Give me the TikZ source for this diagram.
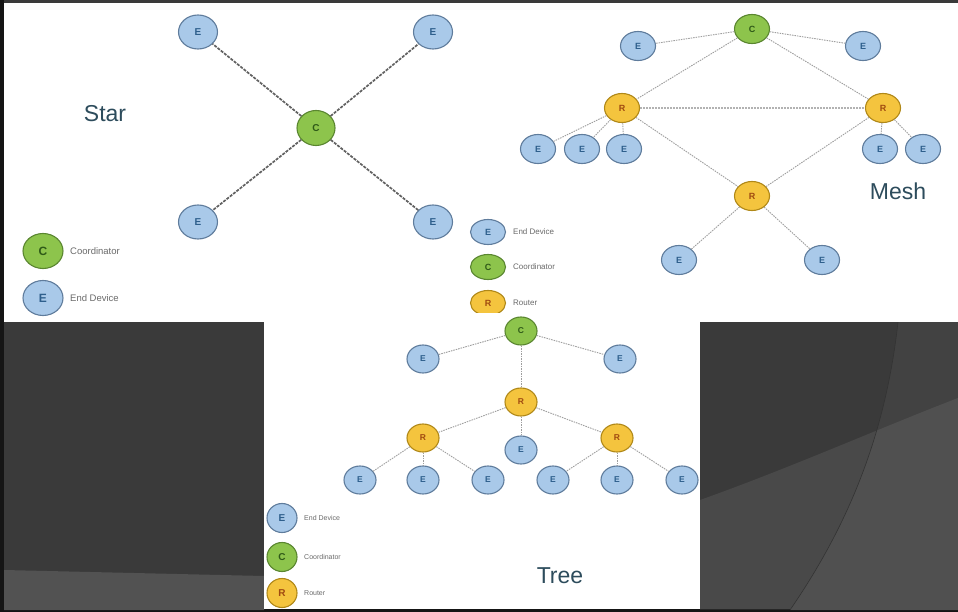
\documentclass[tikz,border=0pt]{standalone}
\usepackage{fontspec}
\setmainfont{Liberation Sans}
\usetikzlibrary{shapes.geometric}
\definecolor{bgdark}{HTML}{3A3A3A}
\definecolor{frame}{HTML}{151515}
\definecolor{ef}{HTML}{A9C9E9}
\definecolor{eb}{HTML}{5F7C9C}
\definecolor{et}{HTML}{2E5F8C}
\definecolor{cf}{HTML}{8DC44C}
\definecolor{cb}{HTML}{5A8630}
\definecolor{ct}{HTML}{2F5A18}
\definecolor{rf}{HTML}{F4C43E}
\definecolor{rb}{HTML}{B08818}
\definecolor{rt}{HTML}{A04A10}
\definecolor{titlec}{HTML}{2D4C5C}
\definecolor{legc}{HTML}{6A6A6A}
\begin{document}
\begin{tikzpicture}[x=1pt,y=-1pt,
  dev/.style={ellipse, draw, line width=1.1pt, inner sep=0pt, font=\fontsize{9}{9}\selectfont\bfseries},
  ee/.style={dev, draw=eb, fill=ef, text=et},
  cc/.style={dev, draw=cb, fill=cf, text=ct},
  rr/.style={dev, draw=rb, fill=rf, text=rt},
  sz/.style 2 args={minimum width=#1pt, minimum height=#2pt},
  starsz/.style={sz={39}{34}, font=\fontsize{10}{10}\selectfont\bfseries},
  meshsz/.style={sz={35}{29}},
  treesz/.style={sz={32}{28}, font=\fontsize{8.5}{8.5}\selectfont\bfseries},
  starline/.style={draw=black!62, line width=1.7pt, dash pattern=on 3pt off 1.2pt},
  netline/.style={draw=black!38, line width=0.9pt, dash pattern=on 1.5pt off 1pt},
  rrline/.style={draw=black!30, line width=1.4pt, dash pattern=on 1.5pt off 1.5pt},
  legtext/.style={anchor=west, text=legc, inner sep=0pt},
  title/.style={text=titlec, font=\fontsize{23}{23}\selectfont, inner sep=0pt}
]
\useasboundingbox (0,0) rectangle (958,612);
% background
\fill[bgdark] (0,0) rectangle (958,612);
\fill[frame] (0,0) rectangle (4,612);
\fill[frame] (0,609) rectangle (958,612);
% bottom-left lighter band
\fill[black!68] (4,570) -- (264,576) -- (264,610) -- (4,610) -- cycle;
% right decorative shapes
\fill[black!74] (898,322) .. controls (885,440) and (845,530) .. (790,610) -- (958,610) -- (958,322) -- cycle;
\fill[white,opacity=0.08] (700,500) .. controls (790,468) and (880,428) .. (958,398) -- (958,610) -- (700,610) -- cycle;
\draw[black!80,line width=0.6pt] (898,322) .. controls (885,440) and (845,530) .. (790,610);
% white panels
\fill[white] (4,3) rectangle (958,322);

% ---------------- Star ----------------
\node[title] (startitle) at (105,114) {Star};
\node[cc,sz={38}{35},font=\fontsize{10}{10}\selectfont\bfseries] (sC) at (316,128) {C};
\node[ee,starsz] (sE1) at (198,32) {E};
\node[ee,starsz] (sE2) at (433,32) {E};
\node[ee,starsz] (sE3) at (198,222) {E};
\node[ee,starsz] (sE4) at (433,222) {E};
\foreach \n in {sE1,sE2,sE3,sE4} \draw[starline] (sC) -- (\n);
\node[cc,sz={40}{35},font=\fontsize{12}{12}\selectfont\bfseries] (sLC) at (43,251) {C};
\node[ee,sz={40}{35},font=\fontsize{12}{12}\selectfont\bfseries] (sLE) at (43,298) {E};
\node[legtext,font=\fontsize{9.5}{9.5}\selectfont] (sLCt) at (70,251) {Coordinator};
\node[legtext,font=\fontsize{9.5}{9.5}\selectfont] (sLEt) at (70,298) {End Device};

% ---------------- Mesh ----------------
\node[cc,meshsz] (mC) at (752,29) {C};
\node[ee,meshsz] (mE1) at (638,46) {E};
\node[ee,meshsz] (mE2) at (863,46) {E};
\node[rr,meshsz] (mR1) at (622,108) {R};
\node[rr,meshsz] (mR2) at (883,108) {R};
\node[ee,meshsz] (mE3) at (538,149) {E};
\node[ee,meshsz] (mE4) at (582,149) {E};
\node[ee,meshsz] (mE5) at (624,149) {E};
\node[ee,meshsz] (mE6) at (880,149) {E};
\node[ee,meshsz] (mE7) at (923,149) {E};
\node[rr,meshsz] (mR3) at (752,196) {R};
\node[ee,meshsz] (mE8) at (679,260) {E};
\node[ee,meshsz] (mE9) at (822,260) {E};
\draw[netline] (mC) -- (mE1);
\draw[netline] (mC) -- (mE2);
\draw[netline] (mC) -- (mR1);
\draw[netline] (mC) -- (mR2);
\draw[rrline] (mR1) -- (mR2);
\draw[netline] (mR1) -- (mE3);
\draw[netline] (mR1) -- (mE4);
\draw[netline] (mR1) -- (mE5);
\draw[netline] (mR1) -- (mR3);
\draw[netline] (mR2) -- (mR3);
\draw[netline] (mR2) -- (mE6);
\draw[netline] (mR2) -- (mE7);
\draw[netline] (mR3) -- (mE8);
\draw[netline] (mR3) -- (mE9);
\node[title] (meshtitle) at (898,191) {Mesh};
\node[ee,sz={35}{25}] (mLE) at (488,232) {E};
\node[cc,sz={35}{25}] (mLC) at (488,267) {C};
\node[rr,sz={35}{25}] (mLR) at (488,303) {R};
\node[legtext,font=\fontsize{8}{8}\selectfont] (mLEt) at (513,232) {End Device};
\node[legtext,font=\fontsize{8}{8}\selectfont] (mLCt) at (513,267) {Coordinator};
\node[legtext,font=\fontsize{8}{8}\selectfont] (mLRt) at (513,303) {Router};

% ---------------- Tree ----------------
\fill[white] (264,313) rectangle (700,609);
\node[cc,treesz] (tC) at (521,331) {C};
\node[ee,treesz] (tE1) at (423,359) {E};
\node[ee,treesz] (tE2) at (620,359) {E};
\node[rr,treesz] (tR1) at (521,402) {R};
\node[rr,treesz] (tR2) at (423,438) {R};
\node[rr,treesz] (tR3) at (617,438) {R};
\node[ee,treesz] (tEm) at (521,450) {E};
\node[ee,treesz] (tB1) at (360,480) {E};
\node[ee,treesz] (tB2) at (423,480) {E};
\node[ee,treesz] (tB3) at (488,480) {E};
\node[ee,treesz] (tB4) at (553,480) {E};
\node[ee,treesz] (tB5) at (617,480) {E};
\node[ee,treesz] (tB6) at (682,480) {E};
\draw[netline] (tC) -- (tE1);
\draw[netline] (tC) -- (tE2);
\draw[netline] (tC) -- (tR1);
\draw[netline] (tR1) -- (tR2);
\draw[netline] (tR1) -- (tEm);
\draw[netline] (tR1) -- (tR3);
\draw[netline] (tR2) -- (tB1);
\draw[netline] (tR2) -- (tB2);
\draw[netline] (tR2) -- (tB3);
\draw[netline] (tR3) -- (tB4);
\draw[netline] (tR3) -- (tB5);
\draw[netline] (tR3) -- (tB6);
\node[ee,sz={30}{29},font=\fontsize{10}{10}\selectfont\bfseries] (tLE) at (282,518) {E};
\node[cc,sz={30}{29},font=\fontsize{10}{10}\selectfont\bfseries] (tLC) at (282,557) {C};
\node[rr,sz={30}{29},font=\fontsize{10}{10}\selectfont\bfseries] (tLR) at (282,593) {R};
\node[legtext,font=\fontsize{7}{7}\selectfont] (tLEt) at (304,518) {End Device};
\node[legtext,font=\fontsize{7}{7}\selectfont] (tLCt) at (304,557) {Coordinator};
\node[legtext,font=\fontsize{7}{7}\selectfont] (tLRt) at (304,593) {Router};
\node[title] (treetitle) at (560,576) {Tree};
\end{tikzpicture}
\end{document}
